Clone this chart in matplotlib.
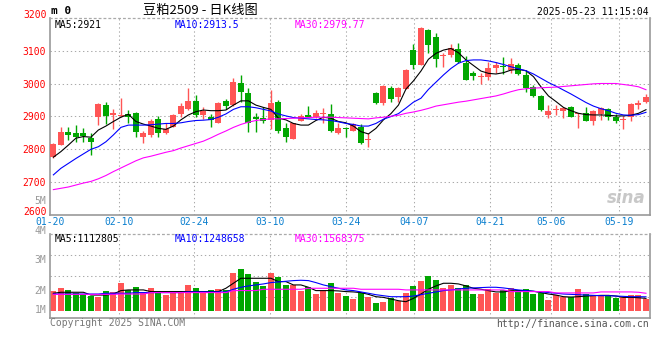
import matplotlib
matplotlib.use("Agg")
import matplotlib.pyplot as plt
import numpy as np

# ---------------- data ----------------
opens = [2777, 2813, 2852, 2850, 2849, 2835, 2899, 2933, 2904, 2900,
         2908, 2911, 2837, 2842, 2893, 2849, 2868, 2907, 2921, 2947,
         2904, 2899, 2880, 2948, 2934, 3003, 2970, 2899, 2896, 2889,
         2944, 2865, 2831, 2886, 2904, 2899, 2907, 2906, 2848, 2864,
         2856, 2866, 2829, 2972, 2941, 2985, 2960, 2984, 3102, 3057,
         3163, 3143, 3085, 3086, 3104, 3064, 3031, 3020, 3021, 3048,
         3053, 3041, 3056, 3026, 2990, 2962, 2904, 2920, 2917, 2927,
         2906, 2910, 2886, 2907, 2922, 2899, 2889, 2898, 2934, 2944]
highs = [2819, 2868, 2868, 2873, 2864, 2848, 2940, 2945, 2923, 2956,
         2919, 2913, 2856, 2892, 2902, 2878, 2907, 2940, 2985, 2965,
         2927, 2906, 2944, 2953, 3016, 3026, 2985, 2909, 2927, 2980,
         2950, 2878, 2880, 2906, 2931, 2919, 2924, 2936, 2878, 2868,
         2880, 2875, 2848, 2975, 2995, 2992, 2990, 3043, 3121, 3172,
         3166, 3155, 3094, 3121, 3124, 3084, 3039, 3031, 3067, 3067,
         3082, 3077, 3064, 3041, 2995, 2965, 2934, 2934, 2927, 2931,
         2911, 2928, 2920, 2927, 2924, 2908, 2900, 2941, 2950, 2968]
lows = [2772, 2812, 2826, 2822, 2822, 2782, 2874, 2877, 2862, 2897,
        2880, 2837, 2819, 2837, 2838, 2846, 2866, 2899, 2919, 2899,
        2892, 2866, 2878, 2921, 2931, 2945, 2853, 2853, 2878, 2860,
        2850, 2822, 2830, 2884, 2897, 2894, 2880, 2853, 2846, 2836,
        2855, 2815, 2807, 2936, 2934, 2945, 2945, 2982, 3043, 3057,
        3092, 3051, 3051, 3082, 3062, 3011, 3011, 3000, 3011, 3031,
        3029, 3033, 3026, 2975, 2958, 2917, 2894, 2904, 2894, 2897,
        2863, 2886, 2873, 2888, 2889, 2880, 2862, 2887, 2921, 2939]
closes = [2815, 2852, 2844, 2838, 2840, 2822, 2936, 2902, 2909, 2903,
          2898, 2853, 2850, 2886, 2849, 2862, 2904, 2931, 2947, 2904,
          2917, 2889, 2941, 2932, 3006, 2975, 2878, 2893, 2886, 2941,
          2856, 2838, 2878, 2902, 2897, 2909, 2909, 2856, 2865, 2862,
          2875, 2817, 2830, 2940, 2992, 2952, 2985, 3041, 3055, 3169,
          3118, 3074, 3088, 3108, 3067, 3011, 3023, 3022, 3046, 3056,
          3050, 3060, 3029, 2985, 2962, 2919, 2917, 2922, 2924, 2899,
          2911, 2886, 2917, 2924, 2899, 2886, 2891, 2937, 2940, 2960]

ma5 = [2775, 2792, 2812, 2833, 2838, 2836, 2858, 2870, 2884, 2897,
       2906, 2884, 2876, 2870, 2863, 2860, 2870, 2889, 2904, 2914,
       2919, 2917, 2917, 2919, 2934, 2947, 2947, 2934, 2927, 2921,
       2894, 2889, 2878, 2873, 2873, 2887, 2897, 2894, 2884, 2880,
       2870, 2853, 2846, 2863, 2889, 2908, 2934, 2983, 3008, 3038,
       3074, 3092, 3102, 3107, 3094, 3072, 3055, 3038, 3031, 3029,
       3033, 3041, 3043, 3039, 3021, 2990, 2962, 2945, 2927, 2917,
       2909, 2905, 2904, 2904, 2903, 2901, 2901, 2903, 2909, 2920]
ma10 = [2721, 2741, 2756, 2771, 2785, 2799, 2807, 2822, 2843, 2866,
        2873, 2873, 2873, 2874, 2876, 2878, 2878, 2880, 2884, 2887,
        2888, 2890, 2897, 2907, 2921, 2929, 2929, 2926, 2921, 2916,
        2907, 2901, 2896, 2894, 2892, 2890, 2889, 2887, 2883, 2878,
        2875, 2870, 2870, 2878, 2891, 2899, 2908, 2925, 2943, 2955,
        2982, 3004, 3026, 3046, 3062, 3070, 3072, 3072, 3069, 3064,
        3058, 3051, 3045, 3039, 3029, 3016, 3003, 2992, 2980, 2968,
        2955, 2942, 2931, 2923, 2917, 2909, 2904, 2903, 2905, 2912]
ma30 = [2676, 2680, 2684, 2690, 2696, 2701, 2709, 2719, 2731, 2742,
        2753, 2764, 2773, 2778, 2784, 2790, 2795, 2803, 2810, 2817,
        2824, 2834, 2845, 2855, 2866, 2875, 2882, 2887, 2890, 2892,
        2892, 2893, 2894, 2895, 2896, 2897, 2897, 2897, 2896, 2895,
        2894, 2893, 2892, 2895, 2897, 2900, 2903, 2909, 2913, 2918,
        2924, 2931, 2935, 2939, 2943, 2946, 2950, 2954, 2958, 2962,
        2968, 2975, 2981, 2984, 2986, 2987, 2988, 2989, 2991, 2993,
        2995, 2997, 2999, 3000, 3000, 3000, 2997, 2994, 2990, 2981]

volume = [1.80, 2.07, 1.89, 1.59, 1.53, 1.35, 1.26, 1.80, 1.68, 2.52,
          1.89, 2.16, 1.59, 2.05, 1.62, 1.41, 1.56, 1.59, 2.32, 2.05,
          1.56, 1.86, 1.96, 1.86, 3.40, 3.76, 3.31, 2.59, 2.23, 3.40,
          3.04, 2.32, 2.32, 1.80, 2.11, 1.50, 1.75, 2.52, 1.59, 1.32,
          1.08, 1.56, 1.23, 0.69, 0.78, 1.11, 0.84, 1.59, 2.23, 2.70,
          3.13, 2.77, 2.05, 2.32, 2.05, 2.28, 1.50, 1.50, 1.96, 1.62,
          1.89, 2.05, 1.75, 1.92, 1.50, 1.62, 0.97, 1.41, 1.26, 1.26,
          1.96, 1.47, 1.35, 1.35, 1.35, 1.17, 1.26, 1.41, 1.41, 1.08]
vma5 = [1.57, 1.66, 1.66, 1.66, 1.66, 1.41, 1.41, 1.41, 1.50, 1.81,
        1.87, 1.87, 1.87, 1.72, 1.72, 1.72, 1.72, 1.72, 1.72, 1.72,
        1.72, 1.72, 1.72, 2.02, 2.47, 2.92, 2.92, 2.92, 2.92, 2.92,
        2.62, 2.62, 2.32, 2.32, 2.11, 1.81, 1.81, 1.81, 1.78, 1.72,
        1.69, 1.63, 1.47, 1.26, 1.20, 1.05, 0.90, 0.81, 1.11, 1.50,
        1.93, 2.23, 2.47, 2.47, 2.41, 2.23, 2.02, 1.93, 1.81, 1.69,
        1.69, 1.78, 1.81, 1.81, 1.75, 1.63, 1.50, 1.41, 1.26, 1.23,
        1.26, 1.32, 1.35, 1.38, 1.38, 1.32, 1.20, 1.20, 1.17, 1.11]
vma10 = [1.50, 1.50, 1.50, 1.50, 1.50, 1.50, 1.50, 1.57, 1.57, 1.57,
         1.57, 1.63, 1.63, 1.63, 1.63, 1.63, 1.63, 1.63, 1.69, 1.69,
         1.69, 1.69, 1.69, 1.69, 1.93, 2.11, 2.23, 2.32, 2.41, 2.53,
         2.59, 2.65, 2.71, 2.74, 2.71, 2.53, 2.32, 2.17, 2.02, 1.87,
         1.81, 1.69, 1.57, 1.44, 1.35, 1.26, 1.26, 1.26, 1.32, 1.44,
         1.57, 1.69, 1.81, 1.87, 1.96, 2.02, 2.05, 2.08, 2.11, 2.11,
         2.05, 1.96, 1.87, 1.81, 1.75, 1.69, 1.63, 1.57, 1.50, 1.47,
         1.44, 1.41, 1.38, 1.35, 1.35, 1.32, 1.29, 1.26, 1.26, 1.25]
vma30 = [1.47, 1.47, 1.47, 1.47, 1.47, 1.47, 1.47, 1.47, 1.47, 1.50,
         1.50, 1.50, 1.50, 1.63, 1.63, 1.63, 1.63, 1.63, 1.63, 1.63,
         1.63, 1.63, 1.63, 1.63, 1.81, 1.81, 1.81, 1.81, 1.93, 1.93,
         1.93, 1.93, 1.93, 1.93, 2.02, 2.02, 2.02, 2.02, 2.02, 2.02,
         2.02, 1.93, 1.93, 1.93, 1.93, 1.93, 1.93, 1.87, 1.87, 1.87,
         1.87, 1.87, 1.87, 1.87, 1.87, 1.87, 1.87, 1.87, 1.87, 1.87,
         1.87, 1.72, 1.72, 1.72, 1.72, 1.72, 1.72, 1.60, 1.60, 1.60,
         1.60, 1.60, 1.60, 1.69, 1.69, 1.69, 1.69, 1.69, 1.66, 1.57]

tick_labels = ["01-20", "02-10", "02-24", "03-10", "03-24",
               "04-07", "04-21", "05-06", "05-19"]
tick_index = [0, 9, 19, 29, 39, 48, 58, 66, 75]
price_ticks = [2600, 2700, 2800, 2900, 3000, 3100, 3200]

title = "豆粕2509 - 日K线图"
timestamp = "2025-05-23 11:15:04"
ma_labels = ["MA5:2921", "MA10:2913.5", "MA30:2979.77"]
vma_labels = ["MA5:1112805", "MA10:1248658", "MA30:1568375"]
vol_axis_labels = ["5M", "4M", "3M", "2M", "1M"]

# ---------------- style ----------------
RED = "#ff5555"
GREEN = "#00a600"
GRID = "#aaaaaa"
BORDER = "#999999"
MONO = "DejaVu Sans Mono"
W, H = 660, 360


def fx(px):
    return px / W


def fy(py):
    return 1 - py / H


fig = plt.figure(figsize=(6.6, 3.6), dpi=100)
fig.patch.set_facecolor("white")
ax = fig.add_axes([fx(50), fy(214.5), 599.5 / W, 196.5 / H])
axv = fig.add_axes([fx(50), fy(318.3), 599.5 / W, 84 / H])

n = len(closes)
x = np.arange(n)
o = np.array(opens, float)
c = np.array(closes, float)
hi = np.array(highs, float)
lo = np.array(lows, float)
colors = [RED if cc >= oo else GREEN for oo, cc in zip(o, c)]

# grid positions for dates (slight drift as in the source chart)
tick_pos = [i * 1.0112 - 0.4 for i in tick_index]
x_left = -0.45

for a in (ax, axv):
    a.set_xlim(x_left, n - 0.53)
    for xp in tick_pos[1:]:
        a.axvline(xp, color=GRID, lw=0.75, ls=(0, (1.3, 2.6)), zorder=0)
    for s in ("left", "right", "bottom"):
        a.spines[s].set_color(BORDER)
        a.spines[s].set_linewidth(1.2)
    a.spines["top"].set_color(GRID)
    a.spines["top"].set_linestyle((0, (1.3, 2.6)))
    a.spines["top"].set_linewidth(0.9)

# price panel
ax.set_ylim(2600, 3200)
for p in price_ticks[1:-1]:
    ax.axhline(p, color=GRID, lw=0.75, ls=(0, (1.3, 2.6)), zorder=0)
ax.vlines(x, lo, hi, colors=colors, lw=1.0, zorder=2)
body_h = np.maximum(np.abs(c - o), 1.5)
body_b = np.minimum(o, c)
ax.bar(x, body_h, bottom=body_b, width=0.8, color=colors, lw=0, zorder=3)
ax.plot(x, ma5, color="black", lw=0.8, zorder=4)
ax.plot(x, ma10, color="#0000ff", lw=0.8, zorder=4)
ax.plot(x, ma30, color="#ff00ff", lw=0.8, zorder=4)

# inner price labels on ticks; the two end labels are nudged inward
ax.set_yticks(price_ticks[1:-1])
ax.set_yticklabels([str(p) for p in price_ticks[1:-1]], color="#ff0000",
                   fontsize=7, family=MONO)
ax.tick_params(axis="y", length=0, pad=3)
ax.set_xticks([])
fig.text(fx(46.5), fy(15.5), str(price_ticks[-1]), color="#ff0000",
         fontsize=7, family=MONO, ha="right", va="center")
fig.text(fx(46.5), fy(212.3), str(price_ticks[0]), color="#ff0000",
         fontsize=7, family=MONO, ha="right", va="center")

# date labels under the price panel
for xp, lbl in zip(tick_pos, tick_labels):
    ax.text(xp, -0.037, lbl, transform=ax.get_xaxis_transform(),
            color="#0a7fcf", fontsize=7, family=MONO,
            ha="center", va="center", clip_on=False)

# volume panel
vlo, vhi = -0.685, 6.88
axv.set_ylim(vlo, vhi)
for f in (0.25, 0.5, 0.75):
    axv.axhline(vlo + f * (vhi - vlo), color=GRID, lw=0.75,
                ls=(0, (1.3, 2.6)), zorder=0)
axv.bar(x, volume, width=0.8, color=colors, lw=0, zorder=2)
axv.plot(x, vma5, color="black", lw=0.8, zorder=3)
axv.plot(x, vma10, color="#0000ff", lw=0.8, zorder=3)
axv.plot(x, vma30, color="#ff00ff", lw=0.8, zorder=3)
axv.set_xticks([])
axv.set_yticks([])

# texts
fig.text(fx(51), fy(11), "m 0", fontsize=8, family=MONO, weight="bold",
         ha="left", va="center")
fig.text(fx(200), fy(10), title, fontsize=9.5,
         family=["Noto Sans CJK SC", "DejaVu Sans"], ha="center", va="center")
fig.text(fx(648.5), fy(12), timestamp, fontsize=7, family=MONO,
         ha="right", va="center")

ma_cols = ["black", "#0000ff", "#ff00ff"]
ma_x = [55, 174.5, 295]
for lbl, col, xp in zip(ma_labels, ma_cols, ma_x):
    fig.text(fx(xp), fy(24.5), lbl, fontsize=7, family=MONO, color=col,
             ha="left", va="center")
for lbl, col, xp in zip(vma_labels, ma_cols, ma_x):
    fig.text(fx(xp), fy(238.5), lbl, fontsize=7, family=MONO, color=col,
             ha="left", va="center")

vol_label_y = [200.5, 231, 260, 290.7, 310]
for lbl, yp in zip(vol_axis_labels, vol_label_y):
    fig.text(fx(46.5), fy(yp), lbl, fontsize=7, family=MONO, color="#999999",
             ha="right", va="center")

fig.text(fx(50), fy(323.5), "Copyright 2025 SINA.COM", fontsize=7,
         family=MONO, color="#777777", ha="left", va="center")
fig.text(fx(649), fy(324), "http://finance.sina.com.cn", fontsize=7,
         family=MONO, color="#555555", ha="right", va="center")

# sina watermark
fig.text(fx(646), fy(198), "sina", fontsize=12, family="DejaVu Sans",
         style="italic", weight="bold", color="#bbbbbb", alpha=0.8,
         ha="right", va="center")

fig.savefig("out.png", dpi=100)
